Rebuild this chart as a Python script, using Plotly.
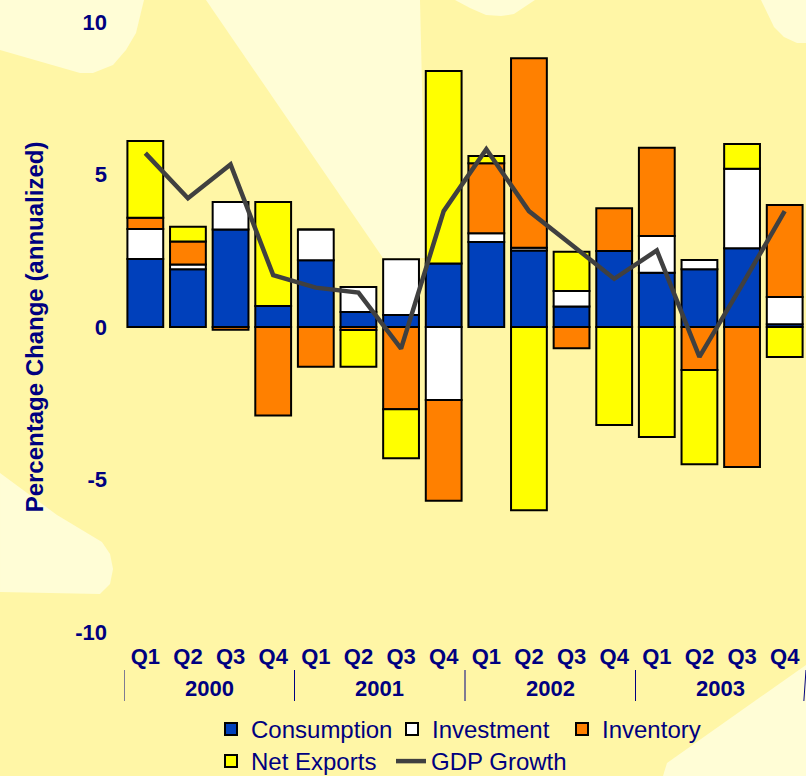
import plotly.graph_objects as go

# ---- data ----
years = ["2000", "2000", "2000", "2000", "2001", "2001", "2001", "2001",
         "2002", "2002", "2002", "2002", "2003", "2003", "2003", "2003"]
quarters = ["Q1", "Q2", "Q3", "Q4"] * 4

consumption = [2.23, 1.89, 3.20, 0.69, 2.19, 0.49, 0.39, 2.08,
               2.79, 2.51, 0.67, 2.49, 1.78, 1.89, 2.58, 0.09]
investment = [0.98, 0.16, 0.90, 0.00, 1.01, 0.82, 1.83, -2.39,
              0.28, 0.09, 0.51, 0.00, 1.20, 0.31, 2.61, 0.89]
inventory = [0.37, 0.75, -0.09, -2.90, -1.30, -0.10, -2.70, -3.31,
             2.30, 6.21, -0.70, 1.40, 2.90, -1.41, -4.59, 3.02]
net_exports = [2.52, 0.49, 0.00, 3.41, 0.00, -1.20, -1.60, 6.31,
               0.24, -6.01, 1.29, -3.21, -3.61, -3.09, 0.81, -0.98]
gdp_growth = [5.70, 4.22, 5.33, 1.70, 1.29, 1.13, -0.71, 3.80,
              5.83, 3.80, 2.70, 1.58, 2.51, -0.98, 1.38, 3.80]

y_tickvals = [-10, -5, 0, 5, 10]
y_ticktext = ["-10", "-5", "0", "5", "10"]

NAVY = "#000080"
BG = "#FFF6A6"
LIGHT = "#FFFDD6"
FONT = "Liberation Sans, Arial, sans-serif"
FIG_W, FIG_H = 806, 776

x_cats = [f"{y} {q}" for y, q in zip(years, quarters)]

# legend entry placement (pixel x of entry start, pixel y of entry top)
legend_pos = {
    "legend": (211, 707),
    "legend2": (392, 707),
    "legend3": (562, 707),
    "legend4": (211, 739),
    "legend5": (391, 739),
}

fig = go.Figure()
series = [
    ("Consumption", consumption, "#0040BB", "legend"),
    ("Investment", investment, "#FFFFFF", "legend2"),
    ("Inventory", inventory, "#FF8000", "legend3"),
    ("Net Exports", net_exports, "#FFFF00", "legend4"),
]
for name, vals, col, lg in series:
    fig.add_trace(go.Bar(x=x_cats, y=vals, name=name, legend=lg,
                         marker=dict(color=col, line=dict(color="#000000", width=2))))
fig.add_trace(go.Scatter(x=x_cats, y=gdp_growth, name="GDP Growth", mode="lines",
                         legend="legend5", line=dict(color="#404040", width=4.5)))

# ---- plot geometry (pixels) ----
L, T, W, H = 124, 22, 682, 610


def path(points):
    pts = [((px - L) / W, (T + H - py) / H) for px, py in points]
    return "M " + " L ".join(f"{a:.4f},{b:.4f}" for a, b in pts) + " Z"


# decorative lighter rays of the background
blobs = [
    [(0, 0), (144, 0), (136, 33), (126, 50), (113, 65), (93, 73), (80, 73), (0, 50)],
    [(206, 0), (420, 0), (426, 258), (383, 258)],
    [(455, 0), (470, 8), (486, 15), (501, 16), (514, 14), (535, 0)],
    [(761, 0), (774, 27), (784, 37), (797, 43), (806, 43), (806, 0)],
    [(0, 473), (57, 515), (102, 542), (110, 554), (113, 569), (110, 584), (100, 594), (0, 592)],
    [(806, 665), (806, 776), (663, 776), (667, 763)],
]
shapes = [dict(type="path", path=path(b), xref="paper", yref="paper",
               fillcolor=LIGHT, line=dict(width=0), layer="below") for b in blobs]

# year group labels and dividers on the category axis
year_names = sorted(set(years))
annotations = []
boundaries = [-0.5]
for yr in year_names:
    idx = [i for i, v in enumerate(years) if v == yr]
    annotations.append(dict(x=sum(idx) / len(idx), y=(T + H - 688) / H, xref="x", yref="paper",
                            text=yr, showarrow=False, yanchor="middle",
                            font=dict(family=FONT, size=22, color=NAVY, weight="bold")))
    boundaries.append(max(idx) + 0.5)
for b in boundaries:
    shapes.append(dict(type="line", xref="x", yref="paper", x0=b, x1=min(b, 15.45),
                       y0=(T + H - 670) / H, y1=(T + H - 701) / H,
                       line=dict(color=NAVY, width=1)))

legends = {}
for key, (px, py) in legend_pos.items():
    legends[key] = dict(orientation="h", xref="container", yref="container",
                        x=px / FIG_W, xanchor="left", y=1 - py / FIG_H, yanchor="top",
                        bgcolor="rgba(0,0,0,0)", borderwidth=0,
                        font=dict(family=FONT, size=24, color=NAVY))

fig.update_layout(
    width=FIG_W, height=FIG_H, autosize=False,
    margin=dict(l=L, r=FIG_W - L - W, t=T, b=FIG_H - T - H, pad=0),
    paper_bgcolor=BG, plot_bgcolor="rgba(0,0,0,0)",
    barmode="relative", bargap=0.16,
    shapes=shapes, annotations=annotations,
    font=dict(family=FONT, color=NAVY),
    showlegend=True,
    **legends,
    xaxis=dict(type="category", showgrid=False, zeroline=False, showline=False,
               ticks="", tickvals=x_cats, ticktext=quarters, ticklabelstandoff=9,
               range=[-0.5, len(x_cats) - 0.5],
               tickfont=dict(family=FONT, size=22, color=NAVY, weight="bold")),
    yaxis=dict(range=[-10, 10], tickvals=y_tickvals, ticktext=y_ticktext,
               showgrid=False, zeroline=False, showline=False,
               ticks="", ticklabelstandoff=16,
               tickfont=dict(family=FONT, size=22, color=NAVY, weight="bold"),
               title=dict(text="Percentage Change (annualized)", standoff=24,
                          font=dict(family=FONT, size=24, color=NAVY, weight="bold"))),
)

fig.write_html("out.html", config={"displayModeBar": False},
               post_script="document.body.style.margin='0';document.body.style.overflow='hidden';")
